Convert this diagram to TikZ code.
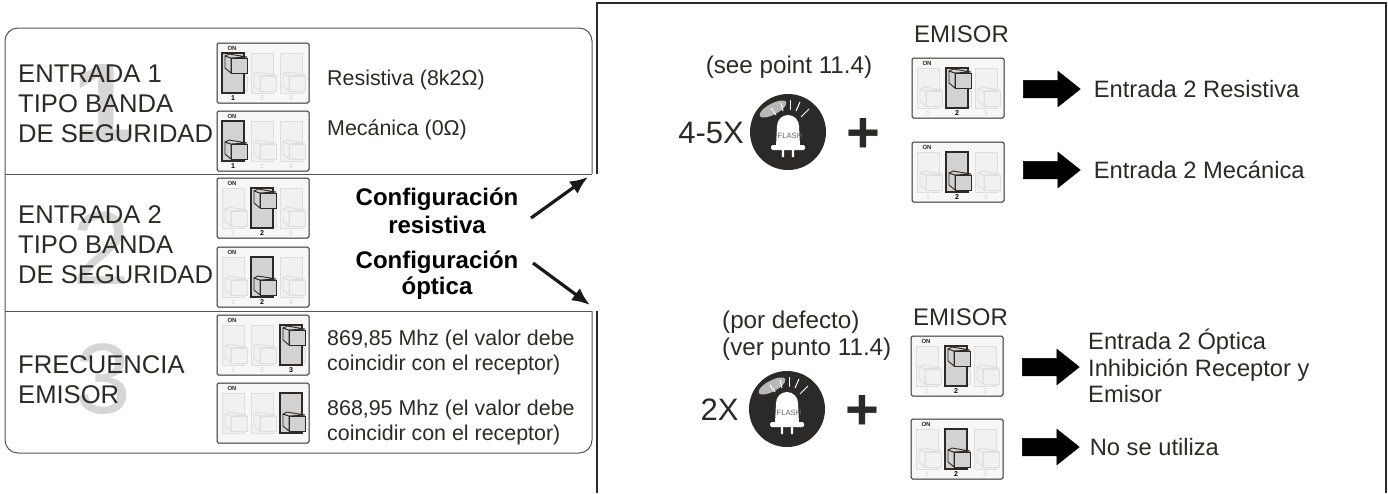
\documentclass[tikz,border=0pt]{standalone}
\usepackage{fontspec}
\setmainfont{Liberation Sans}
\usetikzlibrary{%
    arrows.meta,
    positioning,
    shapes.arrows
}
\definecolor{inkgray}{HTML}{2B2A29}
\definecolor{framegray}{HTML}{555555}
\definecolor{ghostgray}{HTML}{D6D6D6}
\definecolor{slotgray}{HTML}{D2D2D2}
\definecolor{offfill}{HTML}{F1F1F1}
\definecolor{offline}{HTML}{DEDEDE}
\newcommand{\fs}[1]{\fontsize{#1}{#1}\selectfont}
\tikzset{framerule/.style = {draw=framegray, line width=1pt}}
\tikzset{panelrule/.style = {draw=inkgray, line width=1.1pt}}
\tikzset{ghost/.style = {text=ghostgray, font=\fs{#1}, inner sep=0pt}}
\tikzset{title/.style = {text=inkgray, font=\fs{25.6}, align=left, anchor=base west, inner sep=0pt}}
\tikzset{note/.style = {text=inkgray, font=\fs{#1}, align=left, inner sep=0pt}}
\tikzset{config/.style = {font=\bfseries\fs{24}, inner sep=0pt, anchor=base}}
\tikzset{pointer/.style = {line width=3.2pt, draw=black!90, -{Latex[length=18pt,width=15pt]}}}
\tikzset{bigarrow/.style = {single arrow, fill=black, draw=black, minimum height=57pt, minimum width=35pt,
    single arrow head extend=9pt, single arrow tip angle=77, inner xsep=0pt, inner ysep=8.5pt, line width=.5pt,
    anchor=tail}}
\tikzset{
    pics/dipknob/.style 2 args = {code = {
        \filldraw[draw=#1, fill=#2, line width=.9pt, line join=round] (3,13) -- (9,15) -- (9,30) -- (3,25) -- cycle;
        \filldraw[draw=#1, fill=#2, line width=.9pt, line join=round] (3,13) -- (7,11) -- (25,14) -- (9,15) -- cycle;
        \filldraw[draw=#1, fill=#2, line width=.9pt] (9,15) rectangle (25,30);
    }},
    pics/dipswitch/.style n args = {3}{code = {
        \pgfmathsetmacro{\SlotX}{int(5+29*(#1-1))}
        \pgfmathsetmacro{\NumX}{int(16+29*(#1-1))}
        \filldraw[draw=inkgray, fill=white!97!black, line width=1pt, rounded corners=1.5pt] (0,0) rectangle (92,60);
        \node[font=\bfseries\fs{6}, text=inkgray, inner sep=0pt] (-on) at (15,5) {ON};
        % switches that are off
        \foreach \Col/\Slot in {1/5,2/34,3/63}
            {
            \filldraw[draw=offline, fill=offfill, line width=.8pt] (\Slot,10) rectangle ++(22,40);
            \pic at (\Slot,18) {dipknob={offline}{offfill}};
            \ifnum#3=1
                \node[font=\bfseries\fs{7}, text=offline, inner sep=0pt] (-n\Col) at (\Slot+11,55.5) {\Col};
            \fi
            }
        % the switch that is on
        \filldraw[draw=inkgray, fill=slotgray, line width=1.1pt] (\SlotX,10) rectangle ++(22,40);
        \pic at (\SlotX,#2) {dipknob={inkgray}{slotgray}};
        \ifnum#3=1
            \node[font=\bfseries\fs{7}, text=black, fill=white!97!black, inner sep=.6pt] (-num) at (\NumX,55.5) {#1};
        \fi
    }},
    pics/flashicon/.style = {code = {
        \fill[inkgray] (0,0) circle (38);
        \fill[black!28, rotate around={28:(-15,-23)}] (-15,-23) ellipse (15 and 5.5);
        \foreach \Xa/\Ya/\Xb/\Yb in {-17/-24/-12/-17,-7/-29/-5/-21,2/-32/2/-22,12/-30/8/-21,21/-23/13/-15}
            \draw[white, line width=1pt] (\Xa,\Ya) -- (\Xb,\Yb);
        \fill[white] (-12,14) -- (-11,-6) arc (180:360:11) -- (12,14) -- cycle;
        \fill[white, rounded corners=1.5pt] (-17,13) rectangle (17,18);
        \fill[white] (-6.2,17) rectangle (-3.8,25) (3.8,17) rectangle (6.2,25);
        \node[font=\fs{7.7}, text=black!60, inner sep=0pt] (-flash) at (2,4) {FLASH};
    }}
}
\begin{document}
\begin{tikzpicture}[x=1pt, y=-1pt]
    \useasboundingbox (0,0) rectangle (1388,493);

    % left table
    \draw[framerule, rounded corners=13pt] (592,174) -- (592,28) -- (5,28) -- (5,453) -- (592,453) -- (592,311);
    \draw[framerule] (5,174) -- (592,174);
    \draw[framerule] (5,311) -- (592,311);

    % right panel
    \draw[panelrule] (597,174) -- (597,3) -- (1386,3) -- (1386,493);
    \draw[panelrule] (597,311) -- (597,493);

    % big ghost digits
    \node[ghost=112, font=\bfseries\fs{112}] (G1) at (104,103) {1};
    \node[ghost=104] (G2) at (101,248) {2};
    \node[ghost=100] (G3) at (103,379) {3};

    % row titles
    \node[title] (T1) at (18,82) {ENTRADA 1};
    \node[title] (T1b) at (18,112) {TIPO BANDA};
    \node[title] (T1c) at (18,142) {DE SEGURIDAD};
    \node[title] (T2) at (18,223) {ENTRADA 2};
    \node[title] (T2b) at (18,253) {TIPO BANDA};
    \node[title] (T2c) at (18,283) {DE SEGURIDAD};
    \node[title] (T3) at (18,373) {FRECUENCIA};
    \node[title] (T3b) at (18,403) {EMISOR};

    % dip switches
    \foreach \Name/\X/\Y/\Sw/\Knob/\Numbers in {%
        D1/217/43/1/0/1,
        D2/217/111/1/18/1,
        D3/217/178/2/0/1,
        D4/217/247/2/18/1,
        D5/217/315/3/0/1,
        D6/217/383/3/18/0,
        E1/912/58/2/0/1,
        E2/912/142/2/18/1,
        E3/911/336/2/0/1,
        E4/911/419/2/18/1%
        }
        \pic (\Name) at (\X,\Y) {dipswitch={\Sw}{\Knob}{\Numbers}};

    % notes beside the switches
    \node[note=21.4, anchor=west] (R1) at (327,80) {Resistiva (8k2Ω)};
    \node[note=21.4, anchor=west] (R2) at (327,130) {Mecánica (0Ω)};
    \node[note=21.4, anchor=base west] (R3) at (327,345) {869,85 Mhz (el valor debe};
    \node[note=21.4, anchor=base west] (R3b) at (327,370) {coincidir con el receptor)};
    \node[note=21.4, anchor=base west] (R4) at (327,415) {868,95 Mhz (el valor debe};
    \node[note=21.4, anchor=base west] (R4b) at (327,440) {coincidir con el receptor)};

    % bold labels and their arrows
    \node[config] (C1) at (437,205) {Configuración};
    \node[config] (C1b) at (437,233) {resistiva};
    \node[config] (C2) at (437,268) {Configuración};
    \node[config] (C2b) at (437,294) {óptica};
    \coordinate (Pa) at (531,218);
    \coordinate (Pb) at (588,177);
    \coordinate (Qa) at (533,263);
    \coordinate (Qb) at (590,305);
    \draw[pointer] (Pa) -- (Pb);
    \draw[pointer] (Qa) -- (Qb);

    % flash icons
    \pic (F1) at (788,132) {flashicon};
    \pic (F2) at (787,409) {flashicon};
    \node[note=24.2, anchor=base] (S1) at (789,73) {(see point 11.4)};
    \node[note=24.2, anchor=base west] (S2) at (722,328) {(por defecto)};
    \node[note=24.2, anchor=base west] (S2b) at (722,355) {(ver punto 11.4)};
    \node[note=31, anchor=base] (X1) at (711,143) {4-5X};
    \node[note=31, anchor=base] (X2) at (719.5,420) {2X};
    \node[note=58, font=\bfseries\fs{58}] (Plus1) at (863,135) {+};
    \node[note=58, font=\bfseries\fs{58}] (Plus2) at (862,412) {+};

    % right column
    \node[note=24, anchor=base west] (Em1) at (914,42) {EMISOR};
    \node[note=24, anchor=base west] (Em2) at (913,325) {EMISOR};
    \foreach \Name/\X/\Y in {A1/1023/89,A2/1023/170,A3/1022/367,A4/1022/447}
        \node[bigarrow] (\Name) at (\X,\Y) {};
    \node[note=23.7, right=13pt of A1.tip] (L1) {Entrada 2 Resistiva};
    \node[note=23.7, right=13pt of A2.tip] (L2) {Entrada 2 Mecánica};
    \node[note=23.7, anchor=base west] (L3) at (1088,349) {Entrada 2 Óptica};
    \node[note=23.7, anchor=base west] (L3b) at (1088,376) {Inhibición Receptor y};
    \node[note=23.7, anchor=base west] (L3c) at (1088,402) {Emisor};
    \node[note=23.7, right=10pt of A4.tip] (L4) {No se utiliza};
\end{tikzpicture}
\end{document}
